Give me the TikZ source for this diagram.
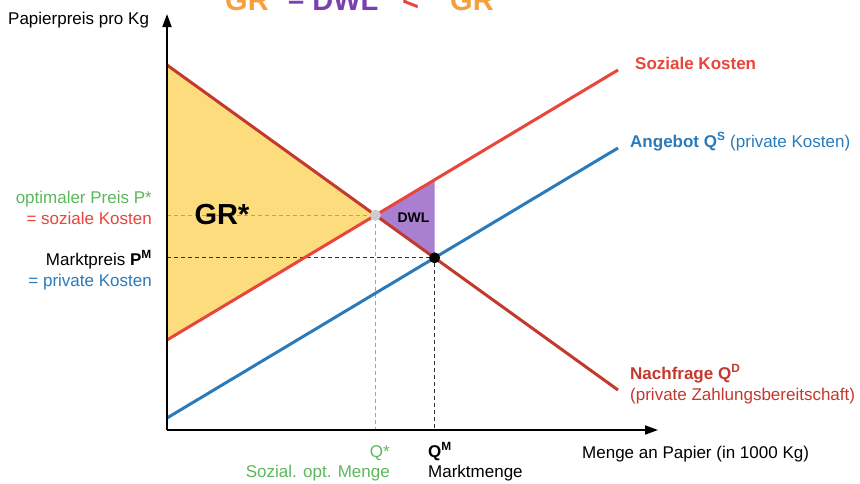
\documentclass[tikz,border=0pt]{standalone}
\usepackage{fontspec}
\setmainfont{Liberation Sans}
\usetikzlibrary{arrows.meta}
\definecolor{socred}{HTML}{E8453C}
\definecolor{demred}{HTML}{C4392E}
\definecolor{supblue}{HTML}{2B7BBA}
\definecolor{optgreen}{HTML}{5DB85C}
\definecolor{groran}{HTML}{F5A03C}
\definecolor{dwlpurp}{HTML}{7B3FB0}
\definecolor{dwlfill}{HTML}{A97FD0}
\definecolor{grfill}{HTML}{FDDC7E}
\definecolor{dotgray}{HTML}{CCCCCC}
\begin{document}
\begin{tikzpicture}[x=1pt,y=-1pt,
  every node/.style={inner sep=0pt,font=\fontsize{17}{20}\selectfont},
  axis/.style={line width=1.8pt,-{Triangle[length=13pt,width=9pt]}},
  curve/.style={line width=3pt},
  guide/.style={line width=1pt,dash pattern=on 4pt off 3pt},
  lbl/.style={anchor=base west},
  lblr/.style={anchor=base east},
  titlefont/.style={font=\fontsize{29}{32}\selectfont\bfseries}]
\clip (0,0) rectangle (860,483);
\fill[white] (0,0) rectangle (860,483);
% key coordinates
\coordinate (O) at (167,430);
\coordinate (ytip) at (167,14);
\coordinate (xtip) at (658,430);
\coordinate (d0) at (167,65);
\coordinate (d1) at (618,390);
\coordinate (s0) at (167,340);
\coordinate (s1) at (618,70);
\coordinate (p0) at (167,418);
\coordinate (p1) at (618,148);
\coordinate (opt) at (375.4,215.2);
\coordinate (mkt) at (434.6,257.8);
\coordinate (smk) at (434.6,179.8);
\coordinate (yopt) at (167,215.2);
\coordinate (ymkt) at (167,257.8);
\coordinate (xopt) at (375.4,430);
\coordinate (xmkt) at (434.6,430);
% areas
\fill[grfill] (d0) -- (opt) -- (s0) -- cycle;
\fill[dwlfill] (opt) -- (smk) -- (mkt) -- cycle;
% guides
\draw[guide,dotgray!80!black] (yopt) -- (opt) -- (xopt);
\draw[guide,black!80] (ymkt) -- (mkt) -- (xmkt);
% curves
\draw[curve,supblue] (p0) -- (p1);
\draw[curve,socred] (s0) -- (s1);
\draw[curve,demred] (d0) -- (d1);
% dots
\fill[dotgray] (opt) circle (5.5pt);
\fill[black] (mkt) circle (5.5pt);
% axes
\draw[axis] (O) -- (ytip);
\draw[axis] (O) -- (xtip);
% title (cut off at top)
\node[titlefont,lbl,text=groran] (t1) at (225,10) {GR\textsuperscript{M}};
\node[titlefont,lbl,text=dwlpurp] (t2) at (288,10) {– DWL};
\node[titlefont,lbl,text=socred] (t3) at (402,10) {<};
\node[titlefont,lbl,text=groran] (t4) at (450,10) {GR\textsuperscript{*}};
% axis labels
\node[lbl] (ylab) at (8,24) {Papierpreis pro Kg};
\node[lbl] (xlab) at (582,458) {Menge an Papier (in 1000 Kg)};
% area labels
\node[font=\fontsize{29}{32}\selectfont\bfseries] (gr) at (222,215) {GR*};
\node[font=\fontsize{14}{16}\selectfont\bfseries] (dwl) at (413.5,218) {DWL};
% price labels
\node[lblr,text=optgreen] (popt) at (152,203) {optimaler Preis P*};
\node[lblr,text=socred] (psoc) at (152,224) {= soziale Kosten};
\node[lblr] (pm) at (152,265) {Marktpreis \textbf{P\textsuperscript{M}}};
\node[lblr,text=supblue] (ppriv) at (152,286) {= private Kosten};
% quantity labels
\node[lblr,text=optgreen] (qopt) at (390,457) {Q*};
\node[lblr,text=optgreen] (qoptl) at (390,477) {Sozial. opt. Menge};
\node[lbl] (qm) at (428,457) {\textbf{Q\textsuperscript{M}}};
\node[lbl] (qml) at (428,477) {Marktmenge};
% curve labels
\node[lbl,text=socred,font=\fontsize{17}{20}\selectfont\bfseries] (lsoc) at (635,69) {Soziale Kosten};
\node[lbl,text=supblue] (lsup) at (630,147) {\textbf{Angebot Q\textsuperscript{S}} (private Kosten)};
\node[lbl,text=demred] (ldem) at (630,379) {\textbf{Nachfrage Q\textsuperscript{D}}};
\node[lbl,text=demred] (ldem2) at (630,400) {(private Zahlungsbereitschaft)};
\end{tikzpicture}
\end{document}
